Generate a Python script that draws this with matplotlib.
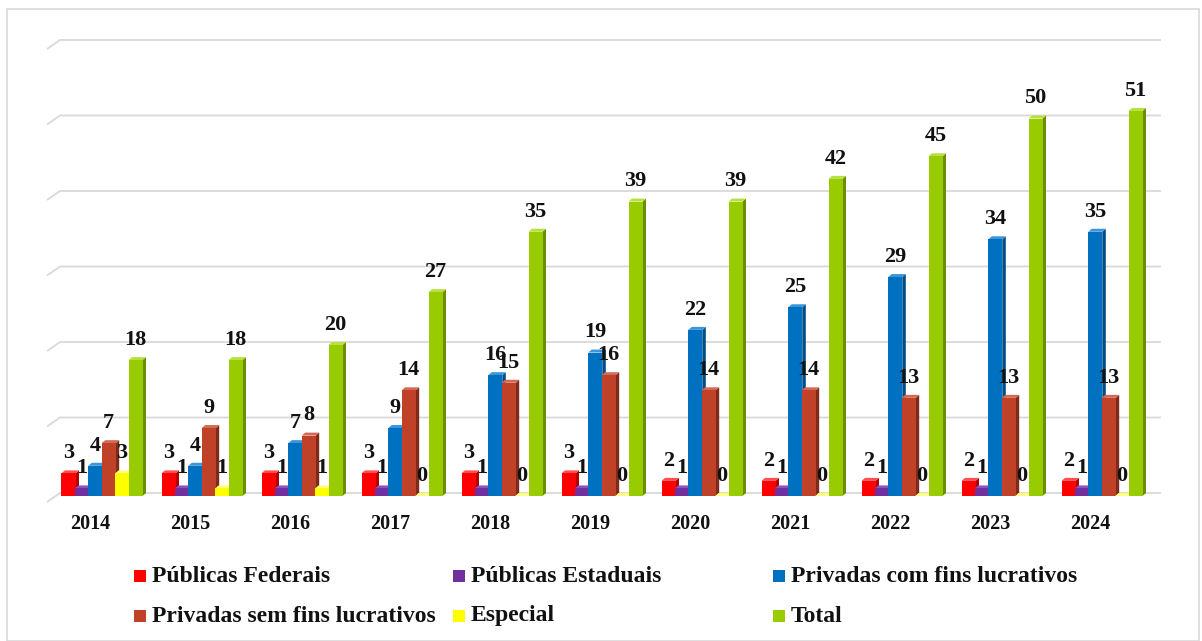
import matplotlib
matplotlib.use("Agg")
import matplotlib.pyplot as plt
from matplotlib.patches import Polygon, Rectangle
import numpy as np

years = ["2014", "2015", "2016", "2017", "2018", "2019", "2020", "2021", "2022", "2023", "2024"]
series_names = ["Públicas Federais", "Públicas Estaduais", "Privadas com fins lucrativos",
                "Privadas sem fins lucrativos", "Especial", "Total"]
publicas_federais = [3, 3, 3, 3, 3, 3, 2, 2, 2, 2, 2]
publicas_estaduais = [1, 1, 1, 1, 1, 1, 1, 1, 1, 1, 1]
privadas_com_fins = [4, 4, 7, 9, 16, 19, 22, 25, 29, 34, 35]
privadas_sem_fins = [7, 9, 8, 14, 15, 16, 14, 14, 13, 13, 13]
especial = [3, 1, 1, 0, 0, 0, 0, 0, 0, 0, 0]
total = [18, 18, 20, 27, 35, 39, 39, 42, 45, 50, 51]
series = [publicas_federais, publicas_estaduais, privadas_com_fins, privadas_sem_fins, especial, total]

front_colors = ["#FF0000", "#7030A0", "#0070C0", "#BE4128", "#FFFF00", "#99CC00"]
side_colors = ["#B00000", "#4E1F72", "#004E88", "#7F2A1A", "#C8C800", "#6B8F00"]
top_colors = ["#FF5050", "#8E52BE", "#3A95DA", "#D46A55", "#FFFF80", "#B8E040"]

FIG_W, FIG_H = 1202, 641
fig = plt.figure(figsize=(FIG_W / 100, FIG_H / 100), dpi=100)

# axes placement in pixels
ax_left_px, ax_right_px = 40, 1170
ax_bottom_px, ax_top_px = 496, 30
px_per_unit = 7.55
ax = fig.add_axes([ax_left_px / FIG_W, 1 - ax_bottom_px / FIG_H,
                   (ax_right_px - ax_left_px) / FIG_W, (ax_bottom_px - ax_top_px) / FIG_H])
# group i center at pixel 101 + 100*i
x0_data = (ax_left_px - 101) / 100
x1_data = (ax_right_px - 101) / 100
ax.set_xlim(x0_data, x1_data)
ax.set_ylim(0, (ax_bottom_px - ax_top_px) / px_per_unit)
ax.axis("off")

serif = ["Liberation Serif", "DejaVu Serif"]

dy = 3 / px_per_unit      # depth offset in y (data units)
dx = 0.035                # depth offset in x (data units)
width = 0.14
step = 0.134

# back gridlines with 3D floor perspective
grid_color = "#D9D9D9"
for v in range(0, 61, 10):
    yb = v + dy
    ax.plot([-0.54, -0.41, 10.60], [yb - 9 / px_per_unit, yb, yb],
            color=grid_color, lw=1.3, solid_capstyle="butt", clip_on=False, zorder=1)

x = np.arange(len(years))
for j, vals in enumerate(series):
    offs = (j - 2.5) * step + 0.01
    for i, v in enumerate(vals):
        xc = x[i] + offs
        xl, xr = xc - width / 2, xc + width / 2
        z = 2 + j
        # side face
        ax.add_patch(Polygon([(xr, 0), (xr + dx, dy), (xr + dx, v + dy), (xr, v)],
                             closed=True, facecolor=side_colors[j], edgecolor="none", zorder=z))
        # top face
        ax.add_patch(Polygon([(xl, v), (xl + dx, v + dy), (xr + dx, v + dy), (xr, v)],
                             closed=True, facecolor=top_colors[j], edgecolor="none", zorder=z))
        # front face
        ax.add_patch(Rectangle((xl, 0), width, v, facecolor=front_colors[j],
                               edgecolor="none", zorder=z))
        ax.annotate(str(v), xy=(xc, v), xytext=(0, 14.5), textcoords="offset points",
                    ha="center", va="center", fontsize=16, fontweight="bold",
                    family=serif, color="#111111", zorder=20, annotation_clip=False)

# category labels
for i, yr in enumerate(years):
    ax.text(x[i] - 0.11, -(524 - ax_bottom_px) / px_per_unit, yr, ha="center", va="center",
            fontsize=14.5, fontweight="bold", family=serif, color="#111111", clip_on=False)

# legend (manual, Excel-like equal columns)
col_px = [134, 453, 773]
row_px = [576, 616]
for k, name in enumerate(series_names):
    r, c = divmod(k, 3)
    mx, my = col_px[c], row_px[r]
    fig.patches.append(Rectangle((mx / FIG_W, 1 - (my + 6) / FIG_H), 12 / FIG_W, 12 / FIG_H,
                                 transform=fig.transFigure, facecolor=front_colors[k],
                                 edgecolor="none"))
    fig.text((mx + 18) / FIG_W, 1 - my / FIG_H, name, ha="left", va="center",
             fontsize=17, fontweight="bold", family=serif, color="#111111")

# chart border
fig.patches.append(Rectangle((7 / FIG_W, 0), (1199 - 7) / FIG_W, 1 - 9 / FIG_H,
                             transform=fig.transFigure, facecolor="none",
                             edgecolor="#D9D9D9", lw=1.2))

fig.savefig("out.png", dpi=100)
